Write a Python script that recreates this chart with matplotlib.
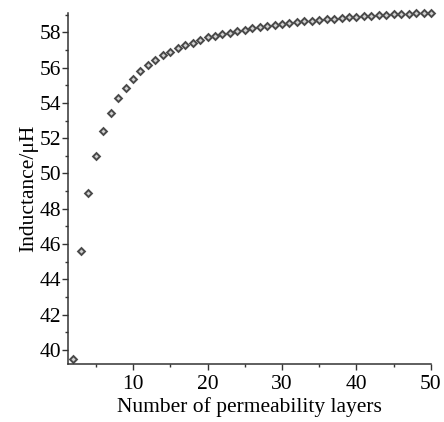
import matplotlib
matplotlib.use('Agg')
import matplotlib.pyplot as plt
from matplotlib.ticker import MultipleLocator

plt.rcParams['font.family'] = ['Liberation Serif', 'DejaVu Serif']

# number of permeability layers and inductance (uH)
layers = list(range(2, 51))
inductance = [39.47, 45.60, 48.92, 51.00, 52.41, 53.45, 54.28, 54.87, 55.38, 55.81,
              56.13, 56.45, 56.71, 56.90, 57.09, 57.26, 57.41, 57.56, 57.73, 57.82,
              57.90, 57.98, 58.08, 58.16, 58.22, 58.29, 58.35, 58.41, 58.47, 58.52,
              58.57, 58.62, 58.67, 58.71, 58.74, 58.77, 58.81, 58.85, 58.88, 58.91,
              58.94, 58.97, 59.00, 59.02, 59.04, 59.06, 59.08, 59.10, 59.11]

fig = plt.figure(figsize=(4.44, 4.22), dpi=100)
ax = fig.add_axes([0.1538, 0.1374, 0.8169, 0.8311])

ax.plot(layers, inductance, linestyle='none', marker='D', markersize=3.5,
        markerfacecolor='#d0d0d0', markeredgecolor='#4a4a4a', markeredgewidth=1.4,
        clip_on=False)

ax.set_xlim(1.31, 50)
ax.set_ylim(39.2, 59.08)
ax.xaxis.set_major_locator(MultipleLocator(10))
ax.xaxis.set_minor_locator(MultipleLocator(5))
ax.yaxis.set_major_locator(MultipleLocator(2))
ax.yaxis.set_minor_locator(MultipleLocator(1))

for s in ['top', 'right']:
    ax.spines[s].set_visible(False)
for s in ['left', 'bottom']:
    ax.spines[s].set_linewidth(1.1)
    ax.spines[s].set_color('#333333')

ax.tick_params(which='major', length=4, width=1, color='#333333', labelsize=15.5, pad=1)
ax.tick_params(axis='x', which='major', pad=4)
ax.tick_params(which='minor', length=2.5, width=1, color='#333333')

ax.set_xlabel('Number of permeability layers', fontsize=15.5, labelpad=2)
ax.set_ylabel('Inductance/\u03bcH', fontsize=15.5, labelpad=1)

fig.savefig('out.png', dpi=100)
